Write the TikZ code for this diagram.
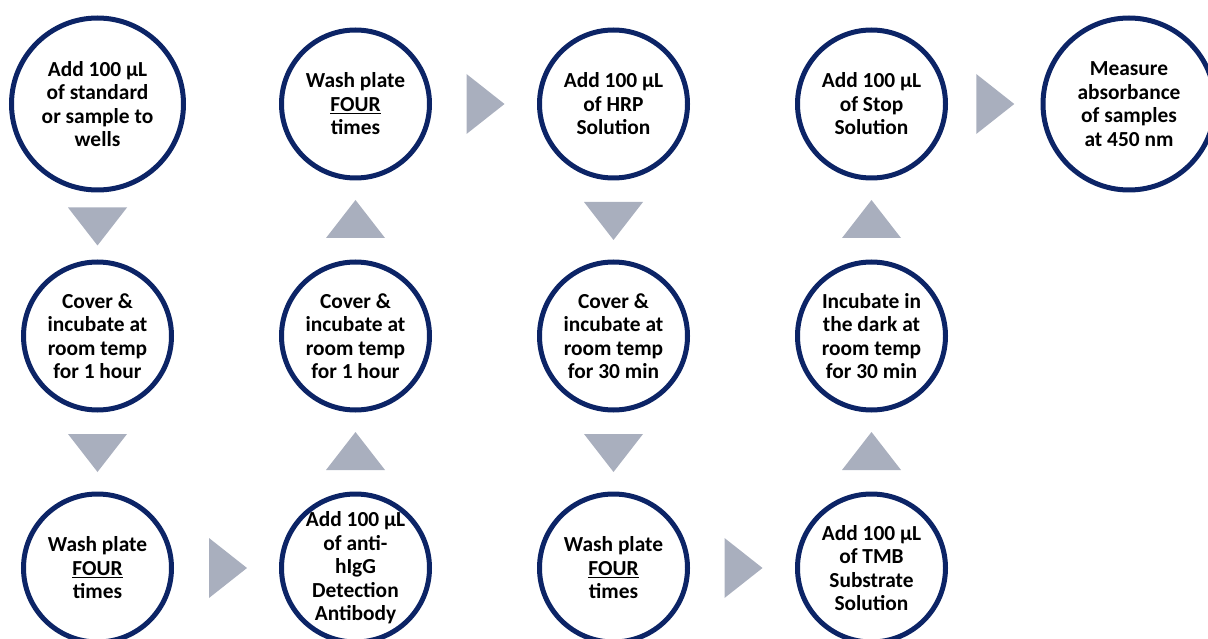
\documentclass[tikz,border=0pt]{standalone}
\usepackage{fontspec}
\setmainfont{Carlito}
\usetikzlibrary{calc}
\definecolor{ringblue}{HTML}{0C2466}
\definecolor{arrowgrey}{HTML}{A9AFBE}
\tikzset{
  ring/.style={circle, draw=ringblue, line width=5pt, fill=white, minimum size=148pt, inner sep=0pt},
  bigring/.style={ring, minimum size=172pt},
  label text/.style={align=center, inner sep=0pt, text=black,
    font=\fontsize{21.4}{23.5}\selectfont\bfseries},
  downtri/.pic={\fill[arrowgrey] (-29.5,-19) -- (29.5,-19) -- (0,19) -- cycle;},
  uptri/.pic={\fill[arrowgrey] (-29.5,19) -- (29.5,19) -- (0,-19) -- cycle;},
  righttri/.pic={\fill[arrowgrey] (-19,-30) -- (-19,30) -- (19,0) -- cycle;}
}
\begin{document}
\begin{tikzpicture}[x=1pt,y=-1pt]
\useasboundingbox (0,0) rectangle (1208,639);
\begin{scope}
\clip (0,0) rectangle (1208,639);
% step circles: column x, row y
\node[bigring] (c11) at (97.5,104) {};
\node[ring] (c21) at (97.5,336) {};
\node[ring] (c31) at (97.5,568) {};
\node[ring] (c32) at (355.5,568) {};
\node[ring] (c22) at (355.5,336) {};
\node[ring] (c12) at (355.5,104) {};
\node[ring] (c13) at (613.5,104) {};
\node[ring] (c23) at (613.5,336) {};
\node[ring] (c33) at (613.5,568) {};
\node[ring] (c34) at (871.5,568) {};
\node[ring] (c24) at (871.5,336) {};
\node[ring] (c14) at (871.5,104) {};
\node[bigring] (c15) at (1129,104) {};

% step texts
\node[label text] (t11) at (c11) {Add 100 µL\\of standard\\or sample to\\wells};
\node[label text] (t21) at (c21) {Cover \&\\incubate at\\room temp\\for 1 hour};
\node[label text] (t31) at (c31) {Wash plate\\\underline{FOUR}\\times};
\node[label text] (t32) at (c32) {Add 100 µL\\of anti-\\hIgG\\Detection\\Antibody};
\node[label text] (t22) at (c22) {Cover \&\\incubate at\\room temp\\for 1 hour};
\node[label text] (t12) at (c12) {Wash plate\\\underline{FOUR}\\times};
\node[label text] (t13) at (c13) {Add 100 µL\\of HRP\\Solution};
\node[label text] (t23) at (c23) {Cover \&\\incubate at\\room temp\\for 30 min};
\node[label text] (t33) at (c33) {Wash plate\\\underline{FOUR}\\times};
\node[label text] (t34) at (c34) {Add 100 µL\\of TMB\\Substrate\\Solution};
\node[label text] (t24) at (c24) {Incubate in\\the dark at\\room temp\\for 30 min};
\node[label text] (t14) at (c14) {Add 100 µL\\of Stop\\Solution};
\node[label text] (t15) at (c15) {Measure\\absorbance\\of samples\\at 450 nm};

% flow arrows, centred in the gaps between circles
\pic at ($(c11.south)!0.5!(c21.north)+(0,0.5)$) {downtri};
\pic at ($(c21.south)!0.5!(c31.north)+(0,1)$) {downtri};
\pic at ($(c31.east)!0.5!(c32.west)+(1.5,0)$) {righttri};
\pic at ($(c32.north)!0.5!(c22.south)+(0,-1)$) {uptri};
\pic at ($(c22.north)!0.5!(c12.south)+(0,-1)$) {uptri};
\pic at ($(c12.east)!0.5!(c13.west)+(1,0)$) {righttri};
\pic at ($(c13.south)!0.5!(c23.north)+(0,1)$) {downtri};
\pic at ($(c23.south)!0.5!(c33.north)+(0,1)$) {downtri};
\pic at ($(c33.east)!0.5!(c34.west)+(1,0)$) {righttri};
\pic at ($(c34.north)!0.5!(c24.south)+(0,-1)$) {uptri};
\pic at ($(c24.north)!0.5!(c14.south)+(0,-1)$) {uptri};
\pic at ($(c14.east)!0.5!(c15.west)+(1,0)$) {righttri};
\end{scope}
\end{tikzpicture}
\end{document}
